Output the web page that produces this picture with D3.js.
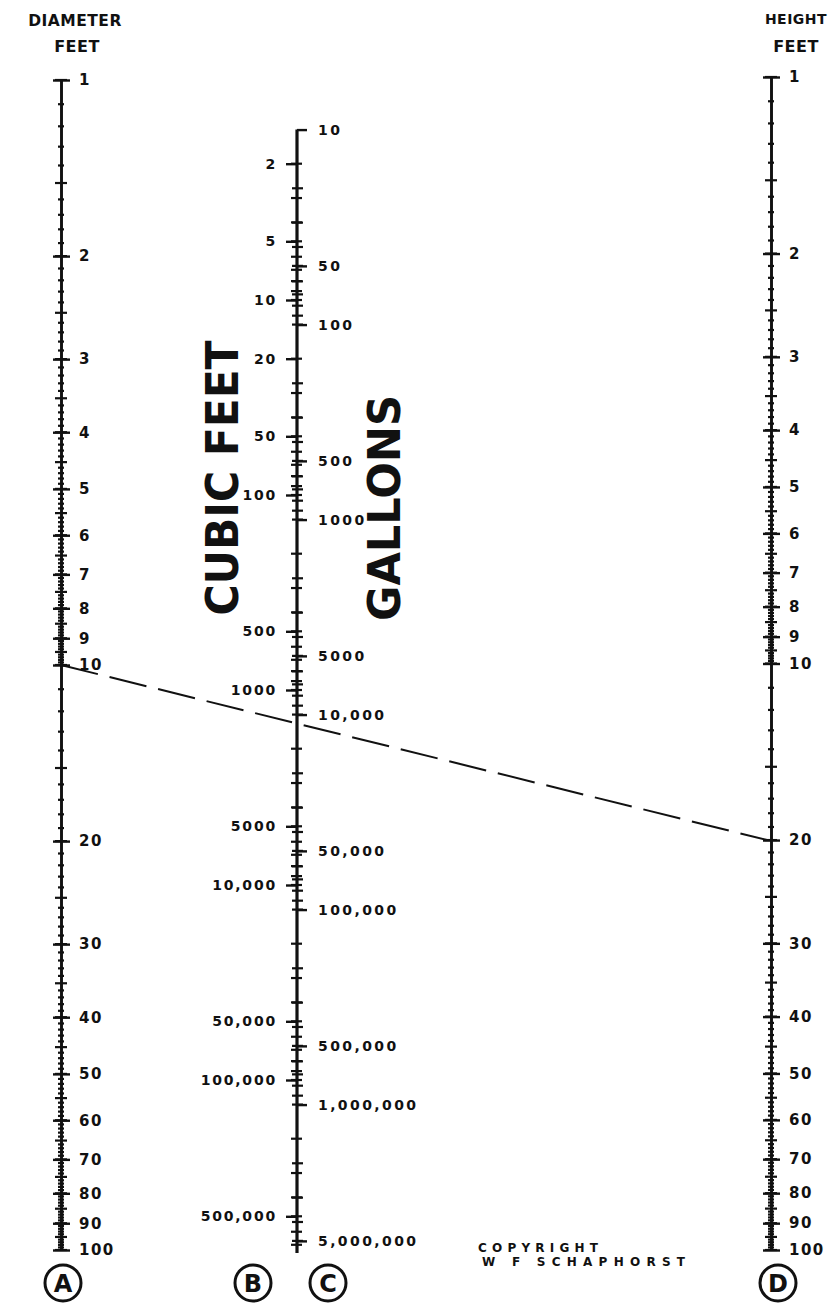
<!DOCTYPE html>
<html>
<head>
    <meta charset="utf-8">
    <title>Tank Volume Nomogram</title>
    <script src="https://d3js.org/d3.v7.min.js"></script>
    <style>
        body { margin: 0; background: #fff; }
        svg text { font-family: "DejaVu Sans", sans-serif; fill: #111; }
        .axis .domain { stroke: #111; stroke-width: 2.6px; }
        .axis line { stroke: #111; stroke-width: 2.4px; }
        .axis text { font-weight: bold; }
    </style>
</head>
<body>
<div id="chart"></div>
<script>
    // scale values
    var diameterLabels = [1, 2, 3, 4, 5, 6, 7, 8, 9, 10, 20, 30, 40, 50, 60, 70, 80, 90, 100];
    var heightLabels = [1, 2, 3, 4, 5, 6, 7, 8, 9, 10, 20, 30, 40, 50, 60, 70, 80, 90, 100];
    var cubicFeetLabels = [2, 5, 10, 20, 50, 100, 500, 1000, 5000, 10000, 50000, 100000, 500000];
    var gallonLabels = [10, 50, 100, 500, 1000, 5000, 10000, 50000, 100000, 500000, 1000000, 5000000];
    var minorMultiples = [1, 2, 3, 4, 5, 6, 7, 8, 9];
    var gallonsPerCubicFoot = 7.4805;

    // worked example shown by the dashed line
    var exampleDiameter = 10;
    var exampleHeight = 20;

    var width = 829, height = 1312;
    var xA = 61, xB = 297, xD = 771;

    var svg = d3.select("#chart").append("svg")
        .attr("width", width)
        .attr("height", height);

    // log scales, slide-rule style
    var yA = d3.scaleLog().domain([1, 100]).range([80, 1250]);
    var yD = d3.scaleLog().domain([1, 100]).range([77, 1250]);
    var yB = d3.scaleLog().domain([1, 1e6]).range([105, 105 + 6 * 195]);
    var yC = d3.scaleLog()
        .domain([gallonsPerCubicFoot, gallonsPerCubicFoot * 1e6])
        .range(yB.range());

    function fmt(v) { return v >= 10000 ? d3.format(",")(v) : String(v); }

    // minor ticks for A and D: tenths below 10, units above 10
    function linearMinors() {
        var out = [];
        d3.range(10, 100).forEach(function(i) { out.push(i / 10); });
        d3.range(10, 101).forEach(function(i) { out.push(i); });
        return out;
    }
    function isHalf(d) {
        return d < 10 ? Math.abs((d * 10) % 5) < 0.01 : d % 5 === 0;
    }

    function drawLinearScale(x, scale, labels) {
        var g = svg.append("g");
        g.selectAll("line.minor")
            .data(linearMinors())
            .enter().append("line")
            .attr("x1", function(d) { return x - (isHalf(d) ? 6 : 3); })
            .attr("x2", function(d) { return x + (isHalf(d) ? 6 : 3); })
            .attr("y1", function(d) { return scale(d); })
            .attr("y2", function(d) { return scale(d); })
            .attr("stroke", "#111")
            .attr("stroke-width", 2.2);

        // left half of the crosses
        svg.append("g")
            .attr("class", "axis")
            .attr("transform", "translate(" + x + ",0)")
            .call(d3.axisLeft(scale).tickValues(labels).tickSize(8).tickSizeOuter(0).tickFormat(""));
        // right half with labels
        svg.append("g")
            .attr("class", "axis")
            .attr("transform", "translate(" + x + ",0)")
            .call(d3.axisRight(scale).tickValues(labels).tickSize(9).tickSizeOuter(0).tickPadding(9).tickFormat(fmt))
            .selectAll("text")
            .style("font-size", "15px")
            .style("letter-spacing", "1.5px");
    }

    drawLinearScale(xA, yA, diameterLabels);
    drawLinearScale(xD, yD, heightLabels);

    // middle scale: cubic feet (left) and gallons (right)
    var cuMinors = [], galMinors = [];
    d3.range(0, 6).forEach(function(k) {
        minorMultiples.forEach(function(m) { cuMinors.push(m * Math.pow(10, k)); });
    });
    d3.range(1, 7).forEach(function(k) {
        minorMultiples.forEach(function(m) { galMinors.push(m * Math.pow(10, k)); });
    });
    cuMinors = cuMinors.filter(function(d) { return yB(d) >= 130 && yB(d) <= 1250; });
    galMinors = galMinors.filter(function(d) { return yC(d) >= 130 && yC(d) <= 1250; });

    svg.append("g").selectAll("line")
        .data(cuMinors)
        .enter().append("line")
        .attr("x1", xB - 6).attr("x2", xB + 5)
        .attr("y1", function(d) { return yB(d); })
        .attr("y2", function(d) { return yB(d); })
        .attr("stroke", "#111").attr("stroke-width", 2.2);

    svg.append("g").selectAll("line")
        .data(galMinors)
        .enter().append("line")
        .attr("x1", xB - 5).attr("x2", xB + 6)
        .attr("y1", function(d) { return yC(d); })
        .attr("y2", function(d) { return yC(d); })
        .attr("stroke", "#111").attr("stroke-width", 2.2);

    // main line of B/C
    svg.append("line")
        .attr("x1", xB).attr("x2", xB)
        .attr("y1", yC(10)).attr("y2", 1253)
        .attr("stroke", "#111").attr("stroke-width", 3.2);

    svg.append("g")
        .attr("class", "axis")
        .attr("transform", "translate(" + xB + ",0)")
        .call(d3.axisLeft(yB).tickValues(cubicFeetLabels).tickSize(11).tickSizeOuter(0).tickPadding(9).tickFormat(fmt))
        .call(function(g) { g.select(".domain").remove(); })
        .selectAll("text")
        .style("font-size", "14px")
        .style("letter-spacing", "1.8px");

    svg.append("g")
        .attr("class", "axis")
        .attr("transform", "translate(" + xB + ",0)")
        .call(d3.axisRight(yC).tickValues(gallonLabels).tickSize(10).tickSizeOuter(0).tickPadding(11).tickFormat(fmt))
        .call(function(g) { g.select(".domain").remove(); })
        .selectAll("text")
        .style("font-size", "14px")
        .style("letter-spacing", "2.4px");

    // dashed example line from A to D
    svg.append("line")
        .attr("x1", xA).attr("y1", yA(exampleDiameter))
        .attr("x2", xD - 4).attr("y2", yD(exampleHeight))
        .attr("stroke", "#111")
        .attr("stroke-width", 2)
        .attr("stroke-dasharray", "38,12");

    // scale titles
    function title(x, y, txt, size) {
        svg.append("text")
            .attr("x", x).attr("y", y)
            .attr("text-anchor", "middle")
            .style("font-size", size + "px")
            .style("font-weight", "bold")
            .style("letter-spacing", "0.5px")
            .text(txt);
    }
    title(75, 26, "DIAMETER", 15.5);
    title(77, 52, "FEET", 16);
    title(796, 24, "HEIGHT", 14);
    title(796, 52, "FEET", 16);

    svg.append("text")
        .attr("transform", "translate(222,478) rotate(-90)")
        .attr("text-anchor", "middle")
        .attr("dominant-baseline", "central")
        .attr("textLength", 275)
        .attr("lengthAdjust", "spacingAndGlyphs")
        .style("font-size", "44px")
        .style("font-weight", "bold")
        .text("CUBIC FEET");

    svg.append("text")
        .attr("transform", "translate(384,508) rotate(-90)")
        .attr("text-anchor", "middle")
        .attr("dominant-baseline", "central")
        .attr("textLength", 226)
        .attr("lengthAdjust", "spacingAndGlyphs")
        .style("font-size", "44px")
        .style("font-weight", "bold")
        .text("GALLONS");

    // circled scale letters
    var letters = [
        {name: "A", x: 63},
        {name: "B", x: 253},
        {name: "C", x: 328},
        {name: "D", x: 778}
    ];
    var lg = svg.append("g").selectAll("g")
        .data(letters)
        .enter().append("g")
        .attr("transform", function(d) { return "translate(" + d.x + ",1283)"; });
    lg.append("circle")
        .attr("r", 18)
        .attr("fill", "none")
        .attr("stroke", "#111")
        .attr("stroke-width", 3);
    lg.append("text")
        .attr("text-anchor", "middle")
        .attr("dominant-baseline", "central")
        .attr("y", 1)
        .style("font-size", "24px")
        .style("font-weight", "bold")
        .text(function(d) { return d.name; });

    // credit
    svg.append("text")
        .attr("x", 478).attr("y", 1252)
        .attr("textLength", 120)
        .style("font-size", "12px")
        .style("font-weight", "bold")
        .text("COPYRIGHT");
    svg.append("text")
        .attr("x", 482).attr("y", 1266)
        .attr("textLength", 203)
        .style("font-size", "12px")
        .style("font-weight", "bold")
        .text("W F SCHAPHORST");
</script>
</body>
</html>
